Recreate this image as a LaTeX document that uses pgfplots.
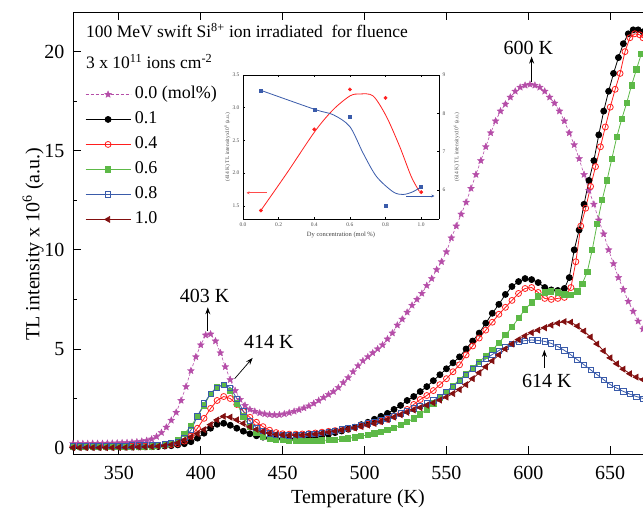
\documentclass[border=0pt]{standalone}
\usepackage{fontspec}
\setmainfont{Liberation Serif}
\usepackage{pgfplots}
\usepackage{pgfplotstable}
\pgfplotsset{compat=1.18}
\usetikzlibrary{plotmarks,arrows.meta}
\definecolor{cstar}{RGB}{181,77,168}
\definecolor{cred}{RGB}{255,30,30}
\definecolor{cgreen}{RGB}{93,185,71}
\definecolor{cblue}{RGB}{58,91,170}
\definecolor{cdred}{RGB}{130,15,15}

\pgfdeclareplotmark{fstar}{%
  \pgfpathmoveto{\pgfqpointpolar{90}{\pgfplotmarksize}}%
  \pgfpathlineto{\pgfqpointpolar{126}{0.45\pgfplotmarksize}}%
  \pgfpathlineto{\pgfqpointpolar{162}{\pgfplotmarksize}}%
  \pgfpathlineto{\pgfqpointpolar{198}{0.45\pgfplotmarksize}}%
  \pgfpathlineto{\pgfqpointpolar{234}{\pgfplotmarksize}}%
  \pgfpathlineto{\pgfqpointpolar{270}{0.45\pgfplotmarksize}}%
  \pgfpathlineto{\pgfqpointpolar{306}{\pgfplotmarksize}}%
  \pgfpathlineto{\pgfqpointpolar{342}{0.45\pgfplotmarksize}}%
  \pgfpathlineto{\pgfqpointpolar{18}{\pgfplotmarksize}}%
  \pgfpathlineto{\pgfqpointpolar{54}{0.45\pgfplotmarksize}}%
  \pgfpathclose
  \pgfusepathqfillstroke
}

\pgfplotstableread{
T v
322 0.22
325 0.22
328 0.22
331 0.22
334 0.23
337 0.23
340 0.23
343 0.24
346 0.24
349 0.25
352 0.26
355 0.27
358 0.29
361 0.31
364 0.34
367 0.38
370 0.45
373 0.58
376 0.78
379 1.05
382 1.4
385 1.8
388 2.4
391 3.1
394 3.9
397 4.6
400 5.2
403 5.7
406 5.75
409 5.4
412 4.8
415 4.1
418 3.45
421 2.9
424 2.45
427 2.15
430 1.95
433 1.85
436 1.77
439 1.72
442 1.69
445 1.67
448 1.68
451 1.72
454 1.78
457 1.85
460 1.93
463 2.02
466 2.12
469 2.25
472 2.4
475 2.55
478 2.7
481 2.85
484 3.05
487 3.3
490 3.55
493 3.85
496 4.15
499 4.4
502 4.6
505 4.8
508 5.0
511 5.2
514 5.5
517 5.8
520 6.2
523 6.5
526 6.85
529 7.2
532 7.5
535 7.8
538 8.2
541 8.55
544 9.0
547 9.4
550 9.9
553 10.6
556 11.2
559 11.8
562 12.4
565 13.1
568 13.8
571 14.5
574 15.2
577 15.9
580 16.5
583 17.0
586 17.35
589 17.7
592 18.0
595 18.2
598 18.3
601 18.35
604 18.3
607 18.2
610 18.0
613 17.7
616 17.4
619 17.0
622 16.5
625 15.9
628 15.3
631 14.6
634 13.8
637 13.0
640 12.3
643 11.5
646 10.8
649 10.0
652 9.3
655 8.6
658 8.0
661 7.4
664 6.9
667 6.4
670 6.0
}\tstar

\pgfplotstableread{
T v
322 0.05
326 0.05
330 0.05
334 0.05
338 0.05
342 0.05
346 0.05
350 0.05
354 0.05
358 0.05
362 0.06
366 0.06
370 0.07
374 0.08
378 0.1
382 0.12
386 0.16
390 0.22
394 0.32
398 0.5
402 0.75
406 1.0
410 1.2
414 1.25
418 1.15
422 1.0
426 0.85
430 0.72
434 0.62
438 0.55
442 0.5
446 0.48
450 0.47
454 0.47
458 0.48
462 0.5
466 0.53
470 0.58
474 0.63
478 0.7
482 0.78
486 0.86
490 0.95
494 1.05
498 1.18
502 1.3
506 1.45
510 1.6
514 1.75
518 1.95
522 2.15
526 2.4
530 2.6
534 2.85
538 3.1
542 3.4
546 3.7
550 4.0
554 4.3
558 4.6
562 5.0
566 5.4
570 5.8
574 6.3
578 6.8
582 7.25
586 7.75
590 8.15
594 8.4
598 8.55
602 8.5
606 8.35
610 8.1
614 7.98
618 7.95
622 8.05
625 8.6
628 10.0
631 11.0
634 12.3
637 13.5
640 14.5
643 15.8
646 17.0
649 18.0
652 18.9
655 19.7
658 20.4
661 20.9
664 21.1
667 21.1
670 21.0
}\tblack

\pgfplotstableread{
T v
322 0.1
326 0.1
330 0.1
334 0.1
338 0.1
342 0.1
346 0.1
350 0.1
354 0.1
358 0.1
362 0.1
366 0.1
370 0.11
374 0.12
378 0.14
382 0.17
386 0.22
390 0.35
394 0.6
398 1.0
402 1.5
406 2.0
410 2.4
414 2.6
418 2.5
422 2.2
426 1.85
430 1.55
434 1.3
438 1.08
442 0.9
446 0.78
450 0.72
454 0.7
458 0.7
462 0.71
466 0.73
470 0.76
474 0.8
478 0.84
482 0.88
486 0.93
490 0.99
494 1.05
498 1.12
502 1.2
506 1.28
510 1.35
514 1.45
518 1.6
522 1.75
526 1.95
530 2.2
534 2.45
538 2.65
542 2.9
546 3.2
550 3.5
554 3.85
558 4.2
562 4.7
566 5.15
570 5.55
574 5.95
578 6.35
582 6.75
586 7.1
590 7.45
594 7.8
598 8.05
602 8.1
606 7.85
610 7.55
614 7.5
618 7.55
622 7.6
626 8.1
629 9.4
632 11.2
635 12.1
638 13.2
641 14.2
644 15.2
647 16.2
650 17.2
653 18.1
656 18.9
659 20.0
662 20.7
665 20.9
668 20.85
670 20.7
}\tred

\pgfplotstableread{
T v
322 0.05
326 0.05
330 0.05
334 0.05
338 0.05
342 0.05
346 0.05
350 0.05
354 0.05
358 0.05
362 0.06
366 0.07
370 0.08
374 0.1
378 0.14
382 0.22
386 0.4
390 0.72
394 1.1
398 1.6
402 2.15
406 2.75
410 3.1
414 3.2
418 2.9
422 2.25
426 1.6
430 1.05
434 0.75
438 0.58
442 0.48
446 0.43
450 0.4
454 0.38
458 0.37
462 0.37
466 0.37
470 0.38
474 0.39
478 0.4
482 0.42
486 0.45
490 0.49
494 0.54
498 0.6
502 0.67
506 0.74
510 0.82
514 0.92
518 1.03
522 1.15
526 1.3
530 1.5
534 1.7
538 1.95
542 2.25
546 2.55
550 2.85
554 3.15
558 3.45
562 3.75
566 4.05
570 4.35
574 4.65
578 4.95
582 5.3
586 5.7
590 6.1
594 6.55
598 7.0
602 7.35
606 7.65
610 7.85
614 7.9
618 7.85
622 7.75
626 7.72
630 7.9
633 8.3
636 8.9
639 10.0
642 11.3
645 12.5
648 13.5
651 14.6
654 15.7
657 16.6
660 17.4
663 18.3
666 19.1
669 19.9
}\tgreen

\pgfplotstableread{
T v
322 0.12
326 0.12
330 0.12
334 0.12
338 0.12
342 0.12
346 0.12
350 0.12
354 0.12
358 0.13
362 0.13
366 0.14
370 0.15
374 0.17
378 0.2
382 0.25
386 0.32
390 0.5
394 0.9
398 1.6
402 2.25
406 2.75
410 3.05
414 3.2
418 3.05
422 2.5
426 1.85
430 1.35
434 1.02
438 0.85
442 0.74
446 0.68
450 0.65
454 0.64
458 0.65
462 0.67
466 0.7
470 0.73
474 0.77
478 0.82
482 0.88
486 0.94
490 1.0
494 1.08
498 1.16
502 1.24
506 1.32
510 1.4
514 1.5
518 1.62
522 1.75
526 1.88
530 2.0
534 2.12
538 2.25
542 2.4
546 2.6
550 2.85
554 3.1
558 3.4
562 3.7
566 4.0
570 4.25
574 4.5
578 4.72
582 4.92
586 5.1
590 5.25
594 5.36
598 5.42
602 5.45
606 5.43
610 5.38
614 5.28
618 5.12
622 4.93
626 4.7
630 4.45
634 4.2
638 3.95
642 3.7
646 3.45
650 3.2
654 3.02
658 2.86
662 2.72
666 2.6
670 2.5
}\tblue

\pgfplotstableread{
T v
322 0.02
326 0.02
330 0.02
334 0.02
338 0.02
342 0.02
346 0.02
350 0.03
354 0.03
358 0.04
362 0.05
366 0.06
370 0.07
374 0.09
378 0.12
382 0.17
386 0.26
390 0.4
394 0.56
398 0.73
402 0.93
406 1.18
410 1.42
414 1.6
418 1.56
422 1.42
426 1.24
430 1.07
434 0.94
438 0.83
442 0.75
446 0.69
450 0.66
454 0.65
458 0.65
462 0.66
466 0.68
470 0.71
474 0.75
478 0.8
482 0.85
486 0.9
490 0.96
494 1.02
498 1.09
502 1.16
506 1.24
510 1.33
514 1.44
518 1.56
522 1.68
526 1.8
530 1.92
534 2.04
538 2.16
542 2.28
546 2.42
550 2.57
554 2.75
558 2.95
562 3.2
566 3.5
570 3.8
574 4.1
578 4.4
582 4.7
586 5.0
590 5.25
594 5.47
598 5.66
602 5.82
606 5.95
610 6.07
614 6.2
618 6.3
622 6.38
626 6.35
630 6.15
634 5.9
638 5.6
642 5.25
646 4.9
650 4.55
654 4.25
658 3.98
662 3.75
666 3.58
670 3.45
}\tdred

\begin{document}
\begin{tikzpicture}
\useasboundingbox (-73pt,-55pt) rectangle (570pt,454pt);
\begin{axis}[
  at={(0,0)}, anchor=south west,
  scale only axis, width=570pt, height=442pt,
  xmin=322, xmax=670, ymin=-0.3, ymax=22,
  axis x line*=box, axis y line*=left,
  xtick={350,400,...,650}, ytick={0,5,...,20},
  minor y tick num=1,
  tick align=inside,
  major tick length=8pt, minor tick length=4pt,
  tick style={black, line width=0.8pt},
  axis line style={black, line width=0.8pt},
  ticklabel style={font=\fontsize{20}{20}\selectfont},
  /pgf/number format/assume math mode=true,
  xticklabel style={anchor=base, yshift=-25pt, inner sep=0pt},
  yticklabel style={anchor=east, xshift=-8.5pt, inner sep=0pt},
  xlabel={Temperature (K)},
  ylabel={TL intensity x 10\textsuperscript{6} (a.u.)},
  label style={font=\fontsize{20}{20}\selectfont},
  xlabel style={at={(axis description cs:0.5,0)}, anchor=base, yshift=-49pt, inner sep=0pt},
  ylabel style={at={(axis description cs:-0.07,0.475)}, anchor=center},
  legend image code/.code={\draw[mark repeat=2,mark phase=2,#1] plot coordinates {(0pt,0pt) (22.5pt,0pt) (45pt,0pt)};},
  legend style={at={(axis description cs:0.021,0.8326)}, anchor=north west, draw=none, fill=none,
    font=\fontsize{18}{18}\selectfont, inner sep=0pt, row sep=8.5pt, column sep=4pt,
    nodes={inner sep=0pt, text height=12.5pt, text depth=4pt}},
  legend cell align=left,
]
\addplot[cstar, densely dashed, line width=0.6pt, mark=fstar, mark size=3.6pt, mark options={solid, fill=cstar, draw=cstar, line width=0.3pt}] table {\tstar};
\addlegendentry{0.0 (mol\%)}
\addplot[black, line width=0.8pt, mark=*, mark size=3pt, mark options={solid, fill=black}] table {\tblack};
\addlegendentry{0.1}
\addplot[cred, line width=0.8pt, mark=o, mark size=3pt, mark options={solid, fill=white, line width=0.8pt}] table {\tred};
\addlegendentry{0.4}
\addplot[cgreen, line width=0.8pt, mark=square*, mark size=2.6pt, mark options={solid, fill=cgreen}] table {\tgreen};
\addlegendentry{0.6}
\addplot[cblue, line width=0.8pt, mark=square, mark size=2.6pt, mark options={solid, fill=white, line width=0.8pt}] table {\tblue};
\addlegendentry{0.8}
\addplot[cdred, line width=0.8pt, mark=triangle*, mark size=3.3pt, mark options={solid, fill=cdred, rotate=90}] table {\tdred};
\addlegendentry{1.0}

\draw[-{Stealth[length=7pt,width=5pt]}, line width=0.7pt] (axis cs:602,18.45) -- (axis cs:602,19.75);
\node[font=\fontsize{20}{20}\selectfont, anchor=base, inner sep=0pt] at (axis cs:600,19.85) {600 K};
\draw[-{Stealth[length=7pt,width=5pt]}, line width=0.7pt] (axis cs:404.3,5.9) -- (axis cs:404.3,7.1);
\node[font=\fontsize{20}{20}\selectfont, anchor=base, inner sep=0pt] at (axis cs:402.4,7.33) {403 K};
\draw[-{Stealth[length=7pt,width=5pt]}, line width=0.7pt] (axis cs:420.7,3.5) -- (axis cs:431.7,4.55);
\node[font=\fontsize{20}{20}\selectfont, anchor=base, inner sep=0pt] at (axis cs:441.5,5.0) {414 K};
\draw[-{Stealth[length=7pt,width=5pt]}, line width=0.7pt] (axis cs:609.8,4.05) -- (axis cs:609.8,4.95);
\node[font=\fontsize{20}{20}\selectfont, anchor=base, inner sep=0pt] at (axis cs:611.3,3.06) {614 K};
\end{axis}

\node[font=\fontsize{17.5}{17.5}\selectfont, anchor=base west, inner sep=0pt] at (13pt,416pt) {100 MeV swift Si\textsuperscript{8+} ion irradiated\ \ for fluence};
\node[font=\fontsize{17.5}{17.5}\selectfont, anchor=base west, inner sep=0pt] at (13pt,385pt) {3 x 10\textsuperscript{11} ions cm\textsuperscript{-2}};

% inset, left axis (414 K)
\begin{axis}[
  at={(170pt,235pt)}, anchor=south west,
  scale only axis, width=196pt, height=144pt,
  xmin=0, xmax=1.1, ymin=1.3, ymax=3.5,
  axis background/.style={fill=white},
  axis x line*=box, axis y line*=left,
  xtick={0,0.2,0.4,0.6,0.8,1.0}, xticklabels={0.0,0.2,0.4,0.6,0.8,1.0},
  ytick={1.5,2.0,2.5,3.0,3.5}, yticklabels={1.5,2.0,2.5,3.0,3.5},
  tick align=inside, major tick length=2pt,
  tick style={black, line width=0.5pt},
  axis line style={black, line width=0.6pt},
  ticklabel style={font=\fontsize{5.5}{6}\selectfont, text=black!70},
  /pgf/number format/assume math mode=true,
  ylabel={(414 K) TL intensityx10\textsuperscript{6} (a.u.)},
  ylabel style={font=\fontsize{5.5}{6}\selectfont, text=black!70, at={(axis description cs:-0.08,0.5)}, anchor=center},
  clip=false,
]
\addplot[cred, line width=0.8pt, smooth, no marks] coordinates {(0.1,1.43) (0.246,2.0) (0.404,2.64) (0.506,2.97) (0.6,3.18) (0.655,3.21) (0.73,3.18) (0.804,2.87) (0.879,2.41) (0.944,1.95) (0.99,1.72)};
\addplot[cred, only marks, mark=*, mark size=1.7pt] coordinates {(0.1,1.43) (0.4,2.67) (0.6,3.28) (0.8,3.15) (1.0,1.71)};
\draw[cred!80, line width=1pt, -{Stealth[length=3pt,width=3pt]}] (axis cs:0.134,1.7) -- (axis cs:0.02,1.7);
\node[font=\fontsize{6.5}{7}\selectfont, text=black!75, anchor=base, inner sep=0pt] at (axis cs:0.55,1.03) {Dy concentration (mol \%)};
\end{axis}

% inset, right axis (614 K)
\begin{axis}[
  at={(170pt,235pt)}, anchor=south west,
  scale only axis, width=196pt, height=144pt,
  xmin=0, xmax=1.1, ymin=5.24, ymax=9,
  axis x line=none, axis y line*=right,
  ytick={6,7,8,9},
  tick align=inside, major tick length=2pt,
  tick style={black, line width=0.5pt},
  axis line style={black, line width=0.6pt},
  ticklabel style={font=\fontsize{5.5}{6}\selectfont, text=black!70},
  /pgf/number format/assume math mode=true,
  ylabel={(614 K) TL intensityx10\textsuperscript{6} (a.u.)},
  ylabel style={font=\fontsize{5.5}{6}\selectfont, text=black!70, at={(axis description cs:1.09,0.5)}, anchor=center, rotate=0},
  clip=false,
]
\addplot[cblue, line width=0.8pt, smooth, no marks] coordinates {(0.106,8.59) (0.404,8.1) (0.507,7.96) (0.6,7.65) (0.674,6.96) (0.749,6.35) (0.842,5.95) (0.898,5.88) (0.953,5.95) (1.0,6.08)};
\addplot[cblue, only marks, mark=square*, mark size=1.5pt] coordinates {(0.1,8.59) (0.4,8.1) (0.6,7.9) (0.8,5.59) (1.0,6.08)};
\draw[cblue, line width=1pt, -{Stealth[length=3pt,width=3pt]}] (axis cs:0.916,5.84) -- (axis cs:1.074,5.84);
\end{axis}
\end{tikzpicture}
\end{document}
